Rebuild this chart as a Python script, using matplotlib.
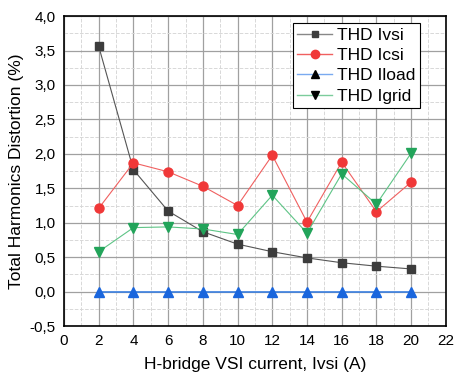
import matplotlib
matplotlib.use("Agg")
import matplotlib.pyplot as plt
from matplotlib.ticker import FuncFormatter, MultipleLocator
from matplotlib.lines import Line2D

plt.rcParams['font.family'] = ['Liberation Sans', 'DejaVu Sans']

# data
current = [2, 4, 6, 8, 10, 12, 14, 16, 18, 20]
thd_ivsi = [3.56, 1.77, 1.17, 0.87, 0.69, 0.58, 0.49, 0.42, 0.37, 0.33]
thd_icsi = [1.21, 1.87, 1.74, 1.53, 1.25, 1.98, 1.01, 1.88, 1.16, 1.59]
thd_iload = [0, 0, 0, 0, 0, 0, 0, 0, 0, 0]
thd_igrid = [0.58, 0.93, 0.94, 0.91, 0.83, 1.40, 0.85, 1.71, 1.27, 2.01]
labels = ['THD Ivsi', 'THD Icsi', 'THD Iload', 'THD Igrid']

fig = plt.figure(figsize=(4.54, 3.74), dpi=100)
ax = fig.add_axes([0.141, 0.128, 0.841, 0.829])

ax.plot(current, thd_ivsi, color='#555555', lw=0.8, marker='s', ms=6,
        mfc='#3c3c3c', mec='#3c3c3c', zorder=5)
ax.plot(current, thd_icsi, color='#f06060', lw=0.8, marker='o', ms=6.5,
        mfc='#f03838', mec='#f03838', zorder=5)
ax.plot(current, thd_iload, color='#3a7fe0', lw=1.2, marker='^', ms=7,
        mfc='#1a66dd', mec='#1a66dd', zorder=5)
ax.plot(current, thd_igrid, color='#5ec486', lw=0.8, marker='v', ms=7,
        mfc='#22a45a', mec='#22a45a', zorder=5)

ax.set_xlim(0, 22)
ax.set_ylim(-0.5, 4.0)
ax.xaxis.set_major_locator(MultipleLocator(2))
ax.xaxis.set_minor_locator(MultipleLocator(1))
ax.yaxis.set_major_locator(MultipleLocator(0.5))
ax.yaxis.set_minor_locator(MultipleLocator(0.25))
ax.yaxis.set_major_formatter(FuncFormatter(lambda v, p: f'{v:.1f}'.replace('.', ',')))
ax.grid(which='major', color='#a0a0a0', lw=0.9)
ax.grid(which='minor', color='#d8d8d8', lw=0.7, ls='--')
ax.set_axisbelow(True)
ax.tick_params(which='both', length=0, labelsize=11, pad=6)
for s in ax.spines.values():
    s.set_linewidth(1.2)

ax.set_xlabel('H-bridge VSI current, Ivsi (A)', fontsize=12.5, labelpad=6)
ax.set_ylabel('Total Harmonics Distortion (%)', fontsize=12.5, labelpad=4)

handles = [
    Line2D([], [], color='#888888', lw=1, marker='s', ms=5, mfc='#3c3c3c', mec='#3c3c3c'),
    Line2D([], [], color='#f06060', lw=1, marker='o', ms=6, mfc='#f03838', mec='#f03838'),
    Line2D([], [], color='#7aaaf0', lw=1, marker='^', ms=6, mfc='black', mec='black'),
    Line2D([], [], color='#7ccc9c', lw=1, marker='v', ms=6, mfc='black', mec='black'),
]
leg = ax.legend(handles, labels, loc='upper right', bbox_to_anchor=(0.932, 0.977),
                fontsize=12.5, frameon=True, fancybox=False, borderpad=0.25,
                handlelength=2.0, handletextpad=0.3, labelspacing=0.3,
                borderaxespad=0.0)
leg.get_frame().set_edgecolor('black')
leg.get_frame().set_linewidth(0.8)
leg.get_frame().set_alpha(1)

fig.savefig('out.png', dpi=100)
